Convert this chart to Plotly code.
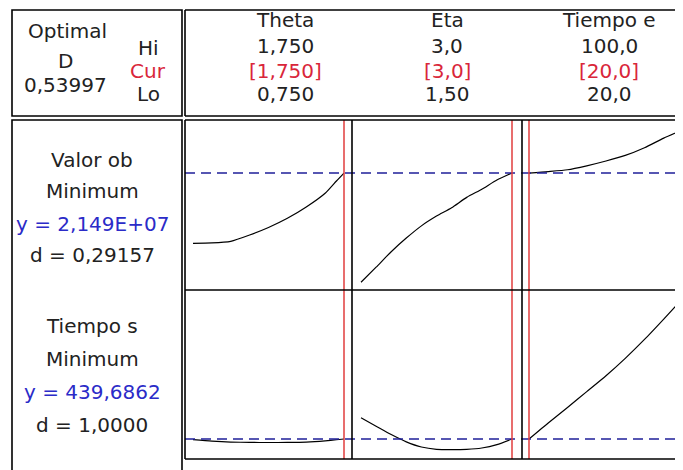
import plotly.graph_objects as go

# The page body adds an 8px margin, so the figure is 8px smaller than the window
OFF = 8
W, H = 683 - OFF, 470 - OFF

# ---------------- data ----------------
factor_names = ["Theta", "Eta", "Tiempo e"]
factor_hi_txt = ["1,750", "3,0", "100,0"]
factor_cur_txt = ["[1,750]", "[3,0]", "[20,0]"]
factor_lo_txt = ["0,750", "1,50", "20,0"]
factor_lo = [0.75, 1.5, 20.0]
factor_hi = [1.75, 3.0, 100.0]
factor_cur = [1.75, 3.0, 20.0]

theta = [0.75, 0.875, 1.0, 1.125, 1.25, 1.375, 1.5, 1.625, 1.7, 1.75]
eta = [1.5, 1.65, 1.8, 1.95, 2.1, 2.25, 2.4, 2.55, 2.7, 2.85, 3.0]
tiempo_e = [20, 30, 40, 50, 60, 70, 80, 90, 100]

# Response 1: Valor ob
valor_theta = [1.459e7, 1.462e7, 1.478e7, 1.540e7, 1.614e7, 1.704e7, 1.815e7, 1.950e7, 2.071e7, 2.149e7]
valor_eta = [1.076e7, 1.224e7, 1.376e7, 1.510e7, 1.630e7, 1.726e7, 1.808e7, 1.910e7, 1.990e7, 2.080e7, 2.149e7]
valor_tiempo = [2.149e7, 2.163e7, 2.181e7, 2.220e7, 2.267e7, 2.322e7, 2.398e7, 2.492e7, 2.575e7]

# Response 2: Tiempo s
ts_theta = [438.5, 435.5, 433.6, 432.8, 432.6, 432.8, 433.5, 436.0, 438.2, 439.6862]
ts_eta = [482.5, 465.5, 448.6, 434.0, 423.6, 419.0, 418.5, 419.0, 421.6, 428.3, 439.6862]
ts_tiempo = [439.6862, 472.0, 503.0, 535.0, 567.0, 602.0, 640.0, 681.0, 723.0]

resp_names = ["Valor ob", "Tiempo s"]
resp_goals = ["Minimum", "Minimum"]
resp_y_txt = ["y = 2,149E+07", "y = 439,6862"]
resp_d_txt = ["d = 0,29157", "d = 1,0000"]
resp_cur = [2.149e7, 439.6862]
resp_range = [[1.0e7, 2.670e7], [399.45, 739.45]]
optimal_D = "0,53997"

xs = [theta, eta, tiempo_e]
ys = [[valor_theta, valor_eta, valor_tiempo], [ts_theta, ts_eta, ts_tiempo]]

# ---------------- layout helpers (window pixel geometry) ----------------
def px(x):
    return (x - OFF) / W

def py(y):
    return 1 - (y - OFF) / H

col_px = [(185, 352), (352, 522), (522, 683)]
lohi_px = [(193, 344), (361, 512), (529, 683)]
row_px = [(120, 290), (290, 459)]

FONT = "DejaVu Sans, Verdana, sans-serif"
RED = "#d9263a"
BLUE = "#2b2bc8"
NAVY = "#1f1f99"
TXT = "#222222"
FS = 20

fig = go.Figure()

layout_axes = {}
for c in range(3):
    (a, b) = col_px[c]
    (pl, ph) = lohi_px[c]
    scale = (ph - pl) / (factor_hi[c] - factor_lo[c])
    x0 = factor_lo[c] - (pl - a) / scale
    x1 = factor_lo[c] + (b - pl) / scale
    name = "xaxis" if c == 0 else f"xaxis{c+1}"
    layout_axes[name] = dict(domain=[px(a), min(1.0, px(b))], range=[x0, x1], visible=False,
                             anchor="y", fixedrange=True)
for r in range(2):
    (t, btm) = row_px[r]
    name = "yaxis" if r == 0 else "yaxis2"
    layout_axes[name] = dict(domain=[py(btm), py(t)], range=resp_range[r], visible=False,
                             anchor="x", fixedrange=True)

for r in range(2):
    for c in range(3):
        fig.add_trace(go.Scatter(
            x=xs[c], y=ys[r][c], mode="lines",
            line=dict(color="black", width=1.2, shape="spline", smoothing=0.6),
            xaxis="x" if c == 0 else f"x{c+1}",
            yaxis="y" if r == 0 else "y2",
            hoverinfo="skip", showlegend=False))

shapes = []
# blue dashed current response lines
for r in range(2):
    shapes.append(dict(type="line", xref="paper", yref="y" if r == 0 else "y2",
                       x0=px(185), x1=1.0, y0=resp_cur[r], y1=resp_cur[r],
                       line=dict(color=NAVY, width=1.6, dash="10px,6px"), layer="above"))
# red current factor lines
for c in range(3):
    shapes.append(dict(type="line", xref="x" if c == 0 else f"x{c+1}", yref="paper",
                       x0=factor_cur[c], x1=factor_cur[c], y0=py(459), y1=py(120),
                       line=dict(color="#e03c3c", width=1.5), layer="above"))

BLK = dict(color="black", width=1.6)
def rect(x0, y0, x1, y1):
    shapes.append(dict(type="rect", xref="paper", yref="paper",
                       x0=px(x0), x1=px(x1), y0=py(y1), y1=py(y0), line=BLK,
                       fillcolor="rgba(0,0,0,0)", layer="above"))
def hline(x0, x1, y):
    shapes.append(dict(type="line", xref="paper", yref="paper",
                       x0=px(x0), x1=px(x1), y0=py(y), y1=py(y), line=BLK, layer="above"))
def vline(x, y0, y1):
    shapes.append(dict(type="line", xref="paper", yref="paper",
                       x0=px(x), x1=px(x), y0=py(y0), y1=py(y1), line=BLK, layer="above"))

# header cells
rect(12, 10, 182, 116)
hline(185, 690, 10)
hline(185, 690, 116)
vline(185, 10, 116)
# row label box
rect(12, 120, 182, 480)
# plot frame
hline(185, 690, 120)
hline(185, 690, 459)
vline(185, 120, 459)
vline(352, 120, 459)
vline(522, 120, 459)
hline(185, 690, 290)

annotations = []
def text(x, y, s, color=TXT, size=FS):
    annotations.append(dict(x=px(x), y=py(y), xref="paper", yref="paper", text=s,
                            showarrow=False, xanchor="center", yanchor="middle",
                            font=dict(family=FONT, size=size, color=color)))

# header left
text(67, 31, "Optimal")
text(65, 61, "D")
text(66, 85, optimal_D)
text(148, 48, "Hi")
text(148, 71, "Cur", color=RED)
text(148, 94, "Lo")

col_txt_x = [285, 447, 609]
for c in range(3):
    text(col_txt_x[c], 20, factor_names[c])
    text(col_txt_x[c], 46, factor_hi_txt[c])
    text(col_txt_x[c], 71, factor_cur_txt[c], color=RED)
    text(col_txt_x[c], 94, factor_lo_txt[c])

row_txt_y = [[160, 191, 224, 255], [326, 359, 392, 425]]
for r in range(2):
    yy = row_txt_y[r]
    text(92, yy[0], resp_names[r])
    text(92, yy[1], resp_goals[r])
    text(92, yy[2], resp_y_txt[r], color=BLUE)
    text(92, yy[3], resp_d_txt[r])

fig.update_layout(width=W, height=H, margin=dict(l=0, r=0, t=0, b=0),
                  paper_bgcolor="white", plot_bgcolor="white",
                  shapes=shapes, annotations=annotations, **layout_axes)

fig.write_html("out.html")
